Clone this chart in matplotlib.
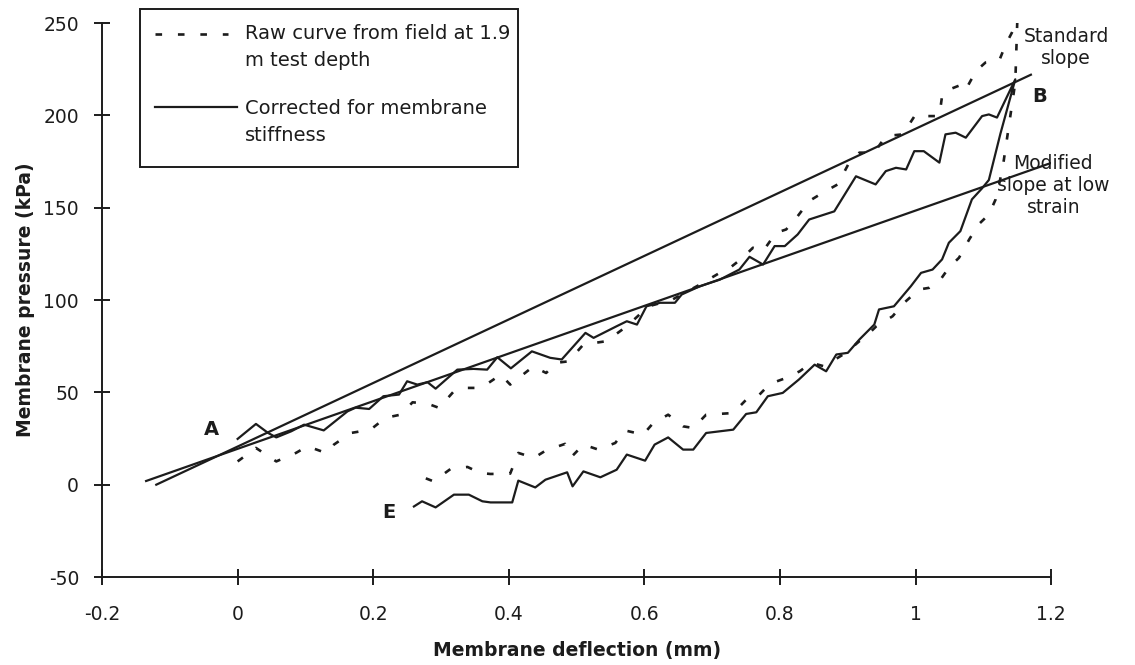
import matplotlib
matplotlib.use("Agg")
import matplotlib.pyplot as plt
from matplotlib.lines import Line2D
from matplotlib.patches import Rectangle

plt.rcParams["axes.unicode_minus"] = False

# raw pressuremeter curve from field (1.9 m test depth): loading A->B then unloading B->E
RAW_X = [0.0, 0.027, 0.057, 0.086, 0.103, 0.130, 0.142, 0.167, 0.196, 0.218, 0.240, 0.258,
         0.280, 0.297, 0.319, 0.334, 0.353, 0.370, 0.388, 0.402, 0.436, 0.455, 0.470, 0.488,
         0.510, 0.544, 0.574, 0.606, 0.640, 0.660, 0.682, 0.711, 0.726, 0.745, 0.760, 0.775,
         0.794, 0.809, 0.826, 0.843, 0.863, 0.885, 0.902, 0.917, 0.939, 0.956, 0.981, 1.000,
         1.017, 1.035, 1.039, 1.044, 1.069, 1.074, 1.089, 1.103, 1.123, 1.133, 1.142, 1.150,
         1.147, 1.133, 1.128, 1.118, 1.108, 1.093, 1.079, 1.064, 1.049, 1.035, 1.020, 1.005,
         0.983, 0.966, 0.942, 0.932, 0.917, 0.897, 0.865, 0.846, 0.829, 0.809, 0.785, 0.765,
         0.750, 0.731, 0.691, 0.672, 0.657, 0.635, 0.613, 0.598, 0.571, 0.557, 0.532, 0.510,
         0.493, 0.483, 0.454, 0.437, 0.414, 0.402, 0.373, 0.358, 0.339, 0.314, 0.289, 0.270]
RAW_Y = [12.6, 19.9, 12.6, 17.2, 20.8, 17.2, 21.7, 28.0, 29.8, 36.2, 37.9, 44.6,
         43.9, 41.6, 50.6, 52.4, 52.4, 55.1, 59.6, 54.2, 64.0, 60.5, 66.0, 66.8,
         75.9, 77.7, 85.8, 96.6, 100.0, 104.0, 108.4, 114.7, 117.4, 122.9, 128.3, 126.5,
         136.4, 138.2, 145.4, 153.6, 158.1, 162.6, 174.4, 179.8, 179.8, 188.8, 189.7, 200.5,
         199.6, 199.6, 210.5, 213.2, 216.8, 214.0, 224.0, 228.6, 229.4, 238.5, 244.8, 252.0,
         218.0, 183.0, 170.7, 154.5, 146.3, 141.0, 132.8, 122.9, 117.5, 110.2, 106.6, 105.7,
         98.5, 91.2, 85.8, 82.2, 77.7, 71.4, 64.1, 66.0, 61.4, 57.8, 54.6, 47.0,
         46.0, 38.8, 37.9, 30.7, 31.6, 37.9, 33.4, 27.1, 29.4, 22.6, 19.0, 21.7,
         15.3, 22.1, 18.4, 14.5, 17.2, 6.0, 5.8, 6.3, 9.6, 8.5, 1.8, 4.5]

# curve corrected for membrane stiffness
COR_X = [0.0, 0.027, 0.045, 0.057, 0.079, 0.098, 0.127, 0.162, 0.174, 0.194, 0.215, 0.238,
         0.250, 0.265, 0.280, 0.292, 0.324, 0.348, 0.368, 0.383, 0.403, 0.434, 0.461, 0.478,
         0.513, 0.525, 0.559, 0.574, 0.589, 0.603, 0.623, 0.645, 0.655, 0.682, 0.711, 0.740,
         0.755, 0.775, 0.792, 0.807, 0.826, 0.843, 0.880, 0.912, 0.941, 0.956, 0.971, 0.986,
         0.998, 1.012, 1.035, 1.044, 1.059, 1.074, 1.098, 1.108, 1.120, 1.147,
         1.125, 1.108, 1.098, 1.083, 1.066, 1.049, 1.039, 1.025, 1.008, 0.993, 0.968, 0.946,
         0.939, 0.917, 0.900, 0.883, 0.868, 0.851, 0.828, 0.804, 0.782, 0.765, 0.750, 0.731,
         0.691, 0.672, 0.657, 0.635, 0.615, 0.601, 0.574, 0.559, 0.535, 0.510, 0.494, 0.486,
         0.454, 0.439, 0.414, 0.405, 0.373, 0.361, 0.341, 0.319, 0.292, 0.272, 0.260]
COR_Y = [24.8, 32.9, 28.0, 25.6, 28.9, 32.5, 29.4, 39.7, 41.7, 41.0, 47.9, 48.8,
         56.0, 54.2, 55.5, 52.0, 62.3, 62.7, 62.3, 69.0, 63.0, 72.2, 68.7, 67.8,
         82.2, 79.5, 85.8, 88.5, 86.7, 96.6, 98.5, 98.5, 103.0, 107.5, 111.0, 116.5,
         123.4, 119.2, 129.2, 129.2, 135.5, 143.6, 148.0, 167.0, 162.6, 169.8, 171.6, 170.7,
         180.6, 180.6, 174.4, 189.7, 190.6, 187.9, 199.6, 200.5, 198.8, 219.5,
         190.0, 165.0, 160.5, 154.5, 137.3, 131.0, 122.0, 116.5, 114.7, 107.5, 96.6, 94.9,
         86.7, 78.6, 71.4, 70.5, 61.4, 65.0, 57.0, 49.7, 47.9, 39.2, 38.3, 29.8,
         28.0, 19.0, 19.0, 25.6, 21.7, 13.0, 16.3, 8.1, 4.0, 7.2, -0.9, 6.7,
         2.7, -1.5, 2.2, -9.6, -9.6, -9.0, -5.4, -5.4, -12.3, -9.0, -11.8]

# fitted slopes (end points)
STD_X, STD_Y = [-0.12, 1.17], [0.0, 222.0]
MOD_X, MOD_Y = [-0.135, 1.229], [2.0, 178.0]

XTICKS = [-0.2, 0, 0.2, 0.4, 0.6, 0.8, 1, 1.2]
XTICKLABELS = ["-0.2", "0", "0.2", "0.4", "0.6", "0.8", "1", "1.2"]
YTICKS = [-50, 0, 50, 100, 150, 200, 250]

INK = "#1c1c1c"
RAW_DASH = (2.5, 6)

W, H = 1135, 665
fig = plt.figure(figsize=(W / 100, H / 100), dpi=100)
ax = fig.add_axes([0.0899, 0.1323, 0.8363, 0.8331])

ax.plot(RAW_X, RAW_Y, color=INK, lw=1.9, dashes=RAW_DASH, zorder=3)
ax.plot(COR_X, COR_Y, color=INK, lw=1.6, zorder=4)
ax.plot(STD_X, STD_Y, color=INK, lw=1.6, zorder=2)
ax.plot(MOD_X, MOD_Y, color=INK, lw=1.6, zorder=2)

# point labels and slope notes
bold = dict(fontsize=14, fontweight="bold", color=INK, ha="center", va="center")
ax.text(-0.039, 30, "A", **bold)
ax.text(0.223, -15, "E", **bold)
ax.text(1.183, 210, "B", **bold)
note = dict(fontsize=13.5, color=INK, ha="center", va="center", linespacing=1.2,
            clip_on=False)
ax.text(1.222, 237, "Standard\nslope", **note)
ax.text(1.203, 162, "Modified\nslope at low\nstrain", **note)

ax.set_xlim(-0.2, 1.2)
ax.set_ylim(-50, 250)
ax.set_xticks(XTICKS)
ax.set_xticklabels(XTICKLABELS)
ax.set_yticks(YTICKS)
for s in ("top", "right"):
    ax.spines[s].set_visible(False)
for s in ("left", "bottom"):
    ax.spines[s].set_linewidth(1.4)
    ax.spines[s].set_color(INK)
ax.tick_params(direction="inout", length=11, width=1.4, colors=INK, labelsize=13.5)
ax.tick_params(axis="x", pad=15)
ax.tick_params(axis="y", pad=11)

ax.set_xlabel("Membrane deflection (mm)", fontsize=13.5, fontweight="bold",
              color=INK, labelpad=12)
ax.set_ylabel("Membrane pressure (kPa)", fontsize=13.5, fontweight="bold",
              color=INK, labelpad=6)

# legend box, laid out in figure pixels
def fx(px):
    return px / W

def fy(py):
    return 1 - py / H

fig.add_artist(Rectangle((fx(140), fy(167)), fx(518) - fx(140), fy(9) - fy(167),
                         transform=fig.transFigure, fill=False, edgecolor=INK, lw=1.4))
fig.add_artist(Line2D([fx(155), fx(228)], [fy(34), fy(34)], transform=fig.transFigure,
                      color=INK, lw=1.9, dashes=RAW_DASH))
fig.add_artist(Line2D([fx(155), fx(237)], [fy(107), fy(107)], transform=fig.transFigure,
                      color=INK, lw=1.6))
leg_txt = dict(fontsize=14, color=INK, ha="left", va="top", linespacing=1.55)
fig.text(fx(245), fy(24), "Raw curve from field at 1.9\nm test depth", **leg_txt)
fig.text(fx(245), fy(99), "Corrected for membrane\nstiffness", **leg_txt)

fig.savefig("out.png", dpi=100, facecolor="white")
